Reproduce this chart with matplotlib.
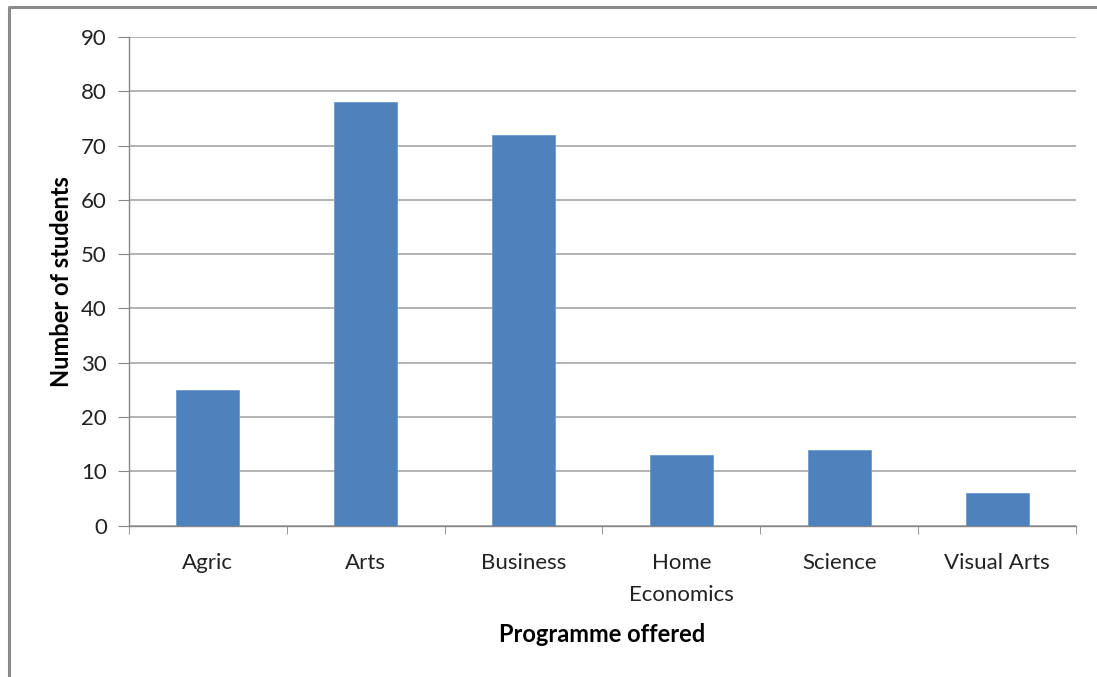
import matplotlib
matplotlib.use("Agg")
import matplotlib.pyplot as plt
from matplotlib.lines import Line2D
import numpy as np

categories = ["Agric", "Arts", "Business", "Home\nEconomics", "Science", "Visual Arts"]
students = [25, 78, 72, 13, 14, 6]
yticks = [0, 10, 20, 30, 40, 50, 60, 70, 80, 90]

plt.rcParams['font.family'] = ['Lato', 'DejaVu Sans']

W, H = 1097, 677
fig = plt.figure(figsize=(W / 100, H / 100), dpi=100)
ax = fig.add_axes([129 / W, 1 - 525.5 / H, (1076 - 129) / W, (525.5 - 37) / H])

x = np.arange(len(categories))
ax.bar(x, students, width=0.4, color="#4F81BD", edgecolor="#6F9AD0", linewidth=0.6, zorder=3)

ax.set_xlim(-0.5, len(categories) - 0.5)
ax.set_ylim(0, 90)
ax.set_yticks(yticks)
ax.set_yticklabels([str(v) for v in yticks], fontsize=16, color="#222222")
ax.yaxis.grid(True, color="#A6A6A6", linewidth=1.2, zorder=0)

ax.set_xticks(x)
ax.set_xticklabels(categories, fontsize=16, color="#222222", linespacing=1.75)
ax.set_xticks(np.arange(-0.5, len(categories)), minor=True)
ax.tick_params(axis="x", which="major", length=0, pad=20)
ax.tick_params(axis="x", which="minor", length=6, color="#868686", direction="out")
ax.tick_params(axis="y", length=8, color="#868686", pad=8)

for s in ["top", "right"]:
    ax.spines[s].set_visible(False)
ax.spines["left"].set_color("#868686")
ax.spines["bottom"].set_color("#868686")
ax.spines["left"].set_linewidth(1.0)
ax.spines["bottom"].set_linewidth(1.0)

ax.set_ylabel("Number of students", fontsize=17, fontweight="bold", labelpad=6)
ax.set_xlabel("Programme offered", fontsize=17, fontweight="bold", labelpad=13)

# Outer chart border (left and top edges visible)
fig.add_artist(Line2D([9 / W, 9 / W, 1.0], [0.0, 1 - 6.5 / H, 1 - 6.5 / H],
                      transform=fig.transFigure, color="#8A8A8A", linewidth=2.2))

fig.savefig("out.png", dpi=100, facecolor="white")
